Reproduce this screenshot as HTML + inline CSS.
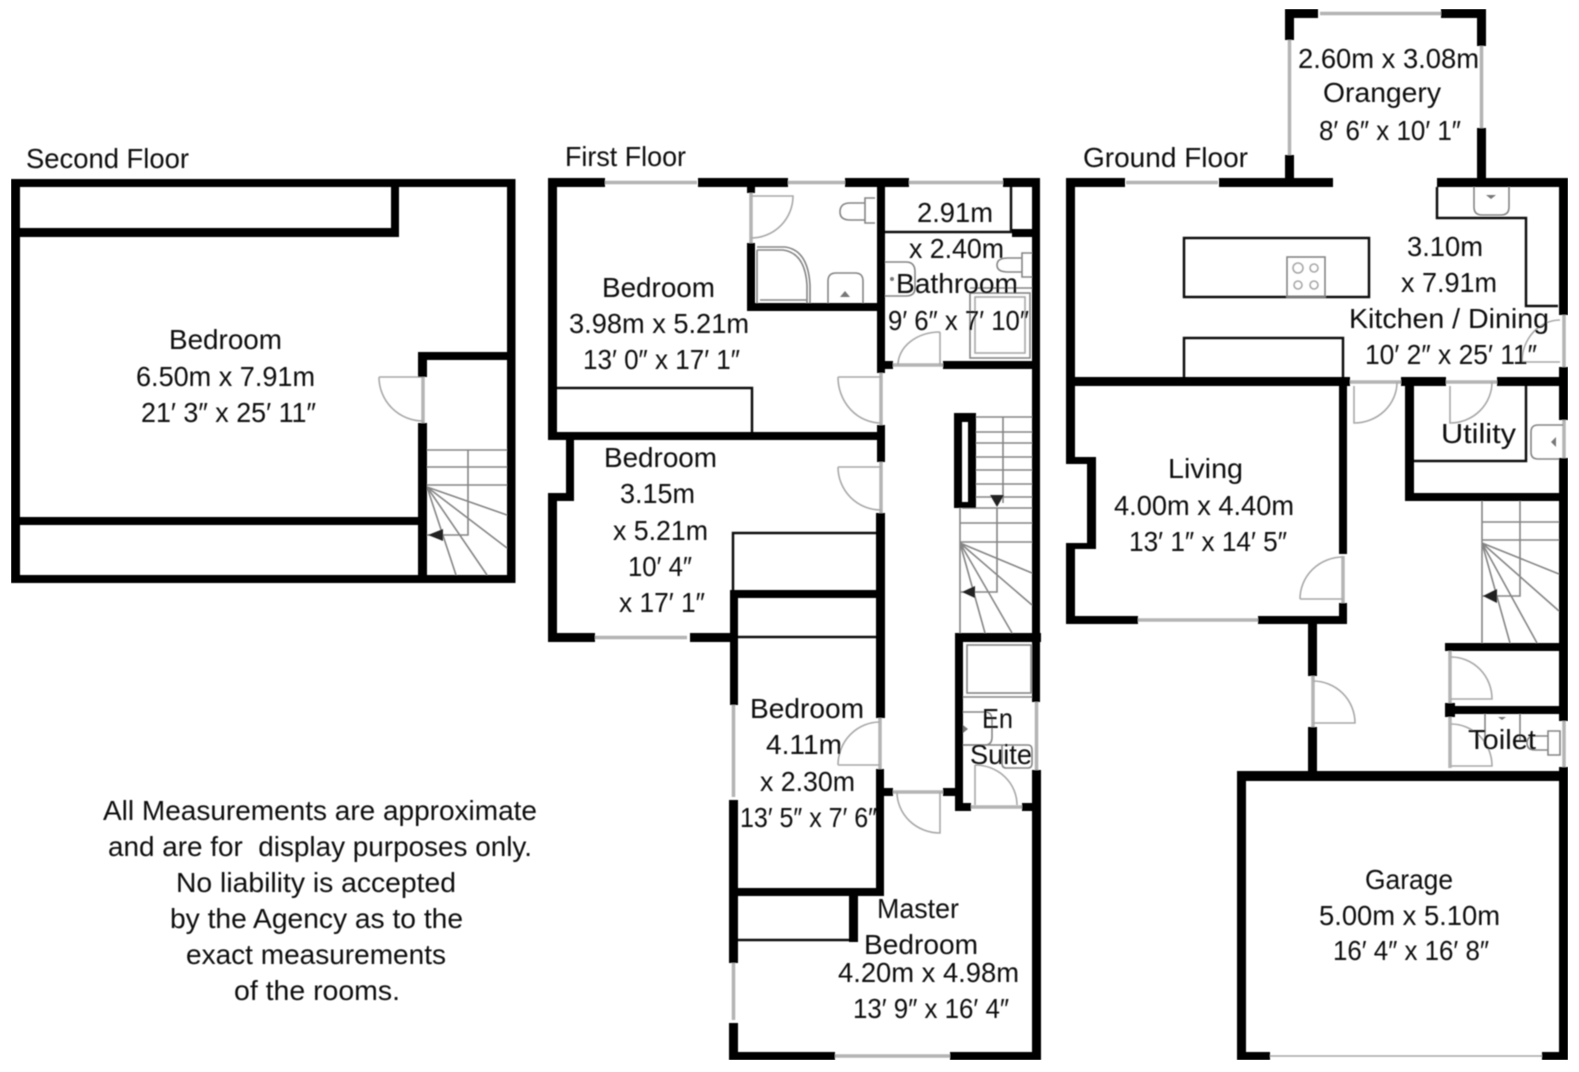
<!DOCTYPE html>
<html><head><meta charset="utf-8"><style>
html,body{margin:0;padding:0;background:#fff}
svg{display:block}
text{font-family:"Liberation Sans",sans-serif;font-size:28px;fill:#0c0c0c}
.g{fill:none;stroke:#a8a8a8;stroke-width:1.6}
.s{fill:none;stroke:#858585;stroke-width:1.6}
.win{fill:none;stroke:#b4b4b4;stroke-width:3.5}
.t{fill:none;stroke:#111;stroke-width:2.5}
</style></head><body>
<svg width="1579" height="1072" viewBox="0 0 1579 1072" xmlns="http://www.w3.org/2000/svg">
<defs><filter id="b" x="0" y="0" width="100%" height="100%"><feGaussianBlur stdDeviation="0.45"/></filter></defs>
<rect width="1579" height="1072" fill="#fff"/>
<g filter="url(#b)">

<!-- windows / door thresholds -->
<path class="win" d="M605 182.500H697M788 182.500H845M909 182.500H1003M595 637.500H687M733.500 705V797M733.500 963V1020M835 1056H950M1036.500 702V770
M881 373V425M881 462V513M880 718V769M893 792H943M971 807H1022M893 365H943M751 193V243
M1320 13.500H1441M1289.500 40V155M1481.500 46V128M1126 182.500H1218M1138 620H1258M1350 382H1401M1446 382H1497M1564 315V367M1564 420V458M1564 721V767M1343 556V603M1313 676V727M1450 651V706M1450 714V768M423 377V423"/>
<path class="g" d="M1270 1056H1542"/>

<!-- doors -->
<path class="g" d="M379 377H423M379 377A44 44 0 0 0 423 421
M751 196H793A42 42 0 0 1 751 238
M838 377H881M838 377A43 46 0 0 0 881 423
M838 467H881M838 467A43 43 0 0 0 881 510
M838 765H880M838 765A42 43 0 0 1 880 722
M940 792V833A43 41 0 0 1 897 792
M975 765V805M975 765A42 40 0 0 1 1017 805
M940 332V365M940 332A42 33 0 0 0 898 365
M1354 386V423A43 41 0 0 0 1397 382
M1450 386V423A42 41 0 0 0 1492 382
M1522 362H1560M1522 362A38 42 0 0 1 1560 320
M1300 599H1343M1300 599A43 42 0 0 1 1343 557
M1313 723H1355A42 42 0 0 0 1313 681
M1451 699H1492A41 42 0 0 0 1451 657
M1451 766H1492A41 42 0 0 0 1451 724"/>

<!-- second floor stairs -->
<path class="s" d="M427 450H507M427 467H507M427 485H507M468 450V535H427M427 487L507 515M427 487L507 548M427 487L487 575M427 487L456 575"/>
<path fill="#222" d="M428 535L443 529V541Z"/>

<!-- first floor stairs -->
<path class="s" d="M976 417H1032M976 432H1032M976 443H1032M976 457H1032M976 470H1032M976 484H1032M976 497H1032M1003 417V503M962 508H1032M960 508V633M960 523H1032M960 542H1032M997 508V592H960M960 543L1032 573M960 543L1032 605M960 543L1012 633M960 543L985 633"/>
<path fill="#222" d="M997 507L1004 495H990ZM962 592L975 586V598Z"/>

<!-- ground floor stairs -->
<path class="s" d="M1482 501V643M1482 522H1559M1482 540H1559M1520 501V596H1482M1482 543L1559 574M1482 543L1559 611M1482 543L1537 643M1482 543L1510 643"/>
<path fill="#222" d="M1483 596L1497 589V603Z"/>

<!-- first floor fixtures -->
<path class="s" stroke-width="2" d="M757 247H785Q808 250 810 285V303M757 250H783Q805 253 807 285V303M757 250V303M760 300H807"/>
<path class="s" d="M828 303V281Q828 273 836 273H855Q863 273 863 281V303"/>
<path fill="#777" d="M845 291L850 297H840Z"/>
<path class="s" d="M875 198H865V223H875M865 203H850Q840 203 840 212Q840 220 850 220H865"/>
<path class="s" d="M885 262H906Q915 262 915 272V288Q915 296 906 296H885"/>
<circle cx="892" cy="279" r="2" fill="#777"/>
<path class="s" d="M1032 253H1022V277H1032M1022 258H1008Q997 258 997 265Q997 272 1008 272H1022M970 288H1032"/>
<rect class="s" x="970" y="293" width="60" height="65"/>
<rect class="g" x="975" y="297" width="50" height="56"/>
<rect class="s" x="967" y="645" width="64" height="48"/>
<path class="s" d="M963 697H1032M963 712H985Q992 712 992 720V737Q992 745 985 745H963"/>
<path class="s" d="M963 745H1002M1002 745H1028Q1032 745 1032 750V763Q1032 768 1028 768H1006Q1002 768 1002 763Z"/>
<path fill="#777" d="M968 729L963 725V733Z"/>

<!-- ground floor fixtures -->
<rect class="t" x="1184" y="238" width="185" height="59"/>
<rect class="s" x="1287" y="257" width="38" height="40"/>
<g class="g"><circle cx="1298" cy="268" r="5"/><circle cx="1314" cy="268" r="4"/><circle cx="1298" cy="285" r="4"/><circle cx="1314" cy="285" r="4"/></g>
<path class="t" d="M1184 377V338H1343V377"/>
<path class="t" d="M1437 187V218H1526V306H1558"/>
<path class="s" d="M1474 187V207Q1474 215 1482 215H1501Q1509 215 1509 207V187"/>
<path fill="#777" d="M1486 195H1496L1491 199Z"/>
<path class="s" d="M1563 425H1538Q1531 425 1531 432V452Q1531 459 1538 459H1563"/>
<path fill="#777" d="M1551 442L1556 437V447Z"/>
<path class="t" d="M1414 461H1526V386"/>
<path class="s" d="M1485 714V742M1520 714V742"/>
<path fill="#777" d="M1498 717H1506L1502 720Z"/>
<path class="s" d="M1548 731H1560V755H1548ZM1548 736H1535Q1527 736 1527 743Q1527 750 1535 750H1548"/>

<!-- thin lines first floor -->
<path class="t" d="M557 388H752V432M733 590V533H880M738 637H877M885 232H1011V187M738 940H858"/>

<!-- walls -->
<path fill="#000" d="
M11 179H515V187H11Z M11 179H20V583H11Z M507 179H515.500V583H507Z M11 575H515V583H11Z
M391 179H399V237H391Z M11 228H399V237H11Z M418 352H427V377H418Z M418 423H427V583H418Z M418 352H515V360H418Z M11 517H427V525H11Z

M548 178H605V187H548Z M698 178H788V187H698Z M845 178H909V187H845Z M1003 178H1040V187H1003Z
M548 178H557V440H548Z M548 432H885V440H548Z M566 432H574V501H566Z M548 493H574V501H548Z M548 493H557V642H548Z
M548 633H595V642H548Z M690 633H738V642H690Z
M877 178H885V373H877Z M877 425H885V462H877Z M876 513H885V718H876Z M876 769H884V896H876Z
M730 593H738V705H730Z M729 800H738V963H729Z M729 1023H738V1060H729Z M729 1052H835V1060H729Z M950 1052H1041V1060H950Z
M1032 178H1040V702H1032Z M1032 770H1041V1060H1032Z
M730 590H884V598H730Z
M747 187H755V193H747Z M747 243H755V311H747Z M747 303H877V311H747Z
M1012 229H1040V237H1012Z M885 361H893V369H885Z M943 361H1032V369H943Z
M954 413H976V422H954Z M954 413H962V508H954Z M968 413H976V508H968Z M954 502H976V508H954Z
M955 633H1041V642H955Z M955 633H963V811H955Z M955 803H971V811H955Z M1022 803H1041V811H1022Z
M884 788H893V796H884Z M943 788H955V796H943Z
M729 888H884V896H729Z M849 888H858V942H849Z

M1285 9H1318V18H1285Z M1441 9H1486V18H1441Z M1285 9H1294V40H1285Z M1285 155H1294V186H1285Z M1477 9H1486V46H1477Z M1477 128H1486V186H1477Z
M1066 178H1125V187H1066Z M1219 178H1333V187H1219Z M1437 178H1568V187H1437Z
M1066 178H1075V464H1066Z M1066 457H1096V464H1066Z M1087 457H1096V549H1087Z M1066 543H1096V549H1066Z M1066 543H1075V624H1066Z
M1066 616H1138V624H1066Z M1258 616H1347V624H1258Z
M1066 377H1350V386H1066Z M1339 377H1347V554H1339Z M1339 603H1347V624H1339Z
M1401 377H1446V386H1401Z M1497 377H1568V386H1497Z
M1559 178H1568V315H1559Z M1559 367H1568V420H1559Z M1559 458H1568V721H1559Z M1559 767H1568V1060H1559Z
M1405 377H1414V501H1405Z M1405 493H1568V501H1405Z
M1445 643H1568V651H1445Z M1445 706H1568V714H1445Z M1445 703H1455V717H1445Z
M1237 771H1568V781H1237Z M1237 771H1246V1060H1237Z M1237 1052H1270V1060H1237Z M1542 1052H1568V1060H1542Z
M1308 624H1317V676H1308Z M1308 727H1317V771H1308Z
"/>

<!-- labels -->
<text x="26" y="168" textLength="163" lengthAdjust="spacingAndGlyphs">Second Floor</text>
<text x="169" y="349" textLength="113" lengthAdjust="spacingAndGlyphs">Bedroom</text>
<text x="136" y="386" textLength="179" lengthAdjust="spacingAndGlyphs">6.50m x 7.91m</text>
<text x="141" y="422" textLength="175" lengthAdjust="spacingAndGlyphs">21′ 3″ x 25′ 11″</text>

<text x="565" y="166" textLength="121" lengthAdjust="spacingAndGlyphs">First Floor</text>
<text x="602" y="297" textLength="113" lengthAdjust="spacingAndGlyphs">Bedroom</text>
<text x="569" y="333" textLength="180" lengthAdjust="spacingAndGlyphs">3.98m x 5.21m</text>
<text x="583" y="369" textLength="157" lengthAdjust="spacingAndGlyphs">13′ 0″ x 17′ 1″</text>
<text x="604" y="467" textLength="113" lengthAdjust="spacingAndGlyphs">Bedroom</text>
<text x="620" y="503" textLength="75" lengthAdjust="spacingAndGlyphs">3.15m</text>
<text x="613" y="540" textLength="95" lengthAdjust="spacingAndGlyphs">x 5.21m</text>
<text x="628" y="576" textLength="64" lengthAdjust="spacingAndGlyphs">10′ 4″</text>
<text x="619" y="612" textLength="86" lengthAdjust="spacingAndGlyphs">x 17′ 1″</text>
<text x="917" y="222" textLength="76" lengthAdjust="spacingAndGlyphs">2.91m</text>
<text x="909" y="258" textLength="95" lengthAdjust="spacingAndGlyphs">x 2.40m</text>
<text x="896" y="293" textLength="122" lengthAdjust="spacingAndGlyphs">Bathroom</text>
<text x="888" y="330" textLength="141" lengthAdjust="spacingAndGlyphs">9′ 6″ x 7′ 10″</text>
<text x="750" y="718" textLength="114" lengthAdjust="spacingAndGlyphs">Bedroom</text>
<text x="766" y="754" textLength="76" lengthAdjust="spacingAndGlyphs">4.11m</text>
<text x="760" y="791" textLength="95" lengthAdjust="spacingAndGlyphs">x 2.30m</text>
<text x="740" y="827" textLength="137" lengthAdjust="spacingAndGlyphs">13′ 5″ x 7′ 6″</text>
<text x="877" y="918" textLength="82" lengthAdjust="spacingAndGlyphs">Master</text>
<text x="864" y="954" textLength="114" lengthAdjust="spacingAndGlyphs">Bedroom</text>
<text x="838" y="982" textLength="181" lengthAdjust="spacingAndGlyphs">4.20m x 4.98m</text>
<text x="853" y="1018" textLength="156" lengthAdjust="spacingAndGlyphs">13′ 9″ x 16′ 4″</text>
<text x="982" y="728" textLength="31" lengthAdjust="spacingAndGlyphs">En</text>
<text x="970" y="764" textLength="62" lengthAdjust="spacingAndGlyphs">Suite</text>

<text x="103" y="820" textLength="434" lengthAdjust="spacingAndGlyphs">All Measurements are approximate</text>
<text x="108" y="856" textLength="424" lengthAdjust="spacingAndGlyphs" xml:space="preserve">and are for  display purposes only.</text>
<text x="176" y="892" textLength="280" lengthAdjust="spacingAndGlyphs">No liability is accepted</text>
<text x="170" y="928" textLength="293" lengthAdjust="spacingAndGlyphs">by the Agency as to the</text>
<text x="186" y="964" textLength="260" lengthAdjust="spacingAndGlyphs">exact measurements</text>
<text x="234" y="1000" textLength="166" lengthAdjust="spacingAndGlyphs">of the rooms.</text>

<text x="1083" y="167" textLength="165" lengthAdjust="spacingAndGlyphs">Ground Floor</text>
<text x="1298" y="68" textLength="181" lengthAdjust="spacingAndGlyphs">2.60m x 3.08m</text>
<text x="1323" y="102" textLength="118" lengthAdjust="spacingAndGlyphs">Orangery</text>
<text x="1319" y="140" textLength="142" lengthAdjust="spacingAndGlyphs">8′ 6″ x 10′ 1″</text>
<text x="1407" y="256" textLength="76" lengthAdjust="spacingAndGlyphs">3.10m</text>
<text x="1401" y="292" textLength="96" lengthAdjust="spacingAndGlyphs">x 7.91m</text>
<text x="1349" y="328" textLength="200" lengthAdjust="spacingAndGlyphs">Kitchen / Dining</text>
<text x="1365" y="364" textLength="172" lengthAdjust="spacingAndGlyphs">10′ 2″ x 25′ 11″</text>
<text x="1441" y="443" textLength="75" lengthAdjust="spacingAndGlyphs">Utility</text>
<text x="1168" y="478" textLength="75" lengthAdjust="spacingAndGlyphs">Living</text>
<text x="1114" y="515" textLength="180" lengthAdjust="spacingAndGlyphs">4.00m x 4.40m</text>
<text x="1129" y="551" textLength="158" lengthAdjust="spacingAndGlyphs">13′ 1″ x 14′ 5″</text>
<text x="1468" y="749" textLength="68" lengthAdjust="spacingAndGlyphs">Toilet</text>
<text x="1365" y="889" textLength="88" lengthAdjust="spacingAndGlyphs">Garage</text>
<text x="1319" y="925" textLength="181" lengthAdjust="spacingAndGlyphs">5.00m x 5.10m</text>
<text x="1333" y="960" textLength="156" lengthAdjust="spacingAndGlyphs">16′ 4″ x 16′ 8″</text>
</g>
</svg>
</body></html>
